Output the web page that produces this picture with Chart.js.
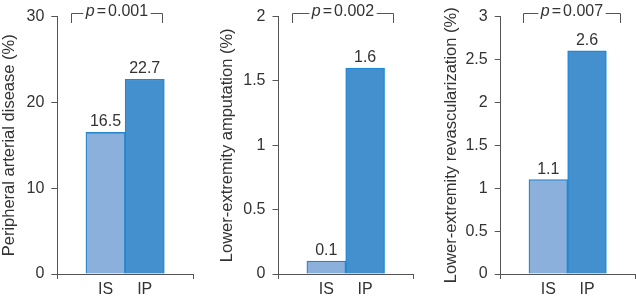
<!DOCTYPE html>
<html><head><meta charset="utf-8">
<script src="https://cdn.jsdelivr.net/npm/chart.js@4/dist/chart.umd.min.js"></script>
<style>
html,body{margin:0;padding:0;background:#fff;}
#wrap{position:relative;width:636px;height:298px;overflow:hidden;background:#fff;}
.p{position:absolute;top:0;height:298px;}
canvas{display:block;}
</style></head><body>
<div id="wrap">
<div class="p" style="left:0;width:210px"><canvas id="c1" width="210" height="298"></canvas></div>
<div class="p" style="left:210px;width:212px"><canvas id="c2" width="212" height="298"></canvas></div>
<div class="p" style="left:422px;width:214px"><canvas id="c3" width="214" height="298"></canvas></div>
</div>
<script>
// ---- data ----
const categories = ['IS', 'IP'];
const padValues = [16.5, 22.7];
const amputationValues = [0.1, 1.6];
const revascValues = [1.1, 2.6];
const yTitles = ['Peripheral arterial disease (%)', 'Lower-extremity amputation (%)', 'Lower-extremity revascularization (%)'];
const pValues = ['0.001', '0.002', '0.007'];
const yMaxes = [30, 2, 3];
const ySteps = [10, 0.5, 0.5];

// ---- style ----
const FONT = '"Liberation Sans", Arial, Helvetica, sans-serif';
const textColor = '#333333';
const axisColor = '#555555';
const fillColors = ['#8cb0dc', '#448fce'];
const borderColors = ['#2585cc', '#1f88d4'];
const FS = 16;

const panels = [
  { id: 'c1', values: padValues, yWidth: 57.3, top: 11, right: 16.7, titlePad: 0, bracket: [-0.88, 1.45] },
  { id: 'c2', values: amputationValues, yWidth: 68.5, top: 15, right: 8.7, titlePad: 8, bracket: [-0.87, 1.71] },
  { id: 'c3', values: revascValues, yWidth: 78.7, top: 9, right: 0.5, titlePad: 20, bracket: [-0.66, 1.85] }
];

const annot = {
  id: 'annot',
  afterDatasetsDraw(chart, args, opts) {
    const ctx = chart.ctx;
    const meta = chart.getDatasetMeta(0);
    const ds = chart.data.datasets[0];
    ctx.save();
    ctx.fillStyle = textColor;
    ctx.font = FS + 'px ' + FONT;
    ctx.textAlign = 'center';
    ctx.textBaseline = 'alphabetic';
    meta.data.forEach((bar, i) => {
      ctx.fillText(String(ds.data[i].y), bar.x, bar.y - 6);
    });
    // significance bracket
    const xs = chart.scales.x;
    const l = Math.round(xs.getPixelForValue(opts.from)) + 0.5;
    const r = Math.round(xs.getPixelForValue(opts.to)) + 0.5;
    const yl = 13.5, yb = 23;
    const cx = (l + r) / 2;
    const fItal = 'italic ' + FS + 'px ' + FONT, fReg = FS + 'px ' + FONT;
    ctx.font = fItal; const wp = ctx.measureText('p').width;
    ctx.font = fReg; const we = ctx.measureText('=').width; const wn = ctx.measureText(opts.p).width;
    const gap = 2;
    const tw = wp + gap + we + gap + wn;
    let tx = cx - tw / 2;
    ctx.textAlign = 'left';
    ctx.font = fItal; ctx.fillText('p', tx, 16); tx += wp + gap;
    ctx.font = fReg; ctx.fillText('=', tx, 16); tx += we + gap;
    ctx.fillText(opts.p, tx, 16);
    ctx.strokeStyle = axisColor;
    ctx.lineWidth = 1;
    ctx.beginPath();
    ctx.moveTo(l, yb); ctx.lineTo(l, yl); ctx.lineTo(cx - tw / 2 - 2.5, yl);
    ctx.moveTo(cx + tw / 2 + 2.5, yl); ctx.lineTo(r, yl); ctx.lineTo(r, yb);
    ctx.stroke();
    ctx.restore();
  }
};

panels.forEach((pn, k) => {
  new Chart(document.getElementById(pn.id), {
    type: 'bar',
    data: {
      datasets: [{
        data: pn.values.map((v, i) => ({ x: i, y: v })),
        backgroundColor: fillColors,
        borderColor: borderColors,
        borderWidth: 1.3,
        categoryPercentage: 1,
        barPercentage: 1
      }]
    },
    options: {
      responsive: false,
      animation: false,
      events: [],
      layout: { padding: { top: pn.top, right: pn.right, left: 0, bottom: 0 } },
      plugins: {
        legend: { display: false },
        tooltip: { enabled: false },
        annot: { p: pValues[k], from: pn.bracket[0], to: pn.bracket[1] }
      },
      scales: {
        x: {
          type: 'linear',
          min: -1.23, max: 2.24,
          offset: false,
          afterBuildTicks: s => { s.ticks = [s.min, 0, 1, s.max].map(v => ({ value: v })); },
          ticks: {
            autoSkip: false, maxRotation: 0, padding: 1,
            color: textColor, font: { family: FONT, size: FS },
            callback: v => (categories[v] !== undefined ? categories[v] : '')
          },
          grid: {
            offset: false, drawOnChartArea: false, drawTicks: true, tickLength: 5,
            color: axisColor,
            tickColor: c => (c.tick && categories[c.tick.value] !== undefined) ? 'rgba(0,0,0,0)' : axisColor
          },
          border: { display: true, color: axisColor, width: 1 },
          afterFit: s => { s.height = 24; }
        },
        y: {
          min: 0, max: yMaxes[k],
          ticks: {
            stepSize: ySteps[k], padding: 7,
            color: textColor, font: { family: FONT, size: FS },
            callback: v => String(v)
          },
          grid: { drawOnChartArea: false, drawTicks: true, tickLength: 6, color: axisColor },
          border: { display: true, color: axisColor, width: 1 },
          title: {
            display: true, text: yTitles[k], color: textColor,
            font: { family: FONT, size: 16.5, lineHeight: 1.2 },
            padding: { top: pn.titlePad, bottom: 0 }
          },
          afterFit: s => { s.width = pn.yWidth; }
        }
      }
    },
    plugins: [annot]
  });
});
</script>
</body></html>
